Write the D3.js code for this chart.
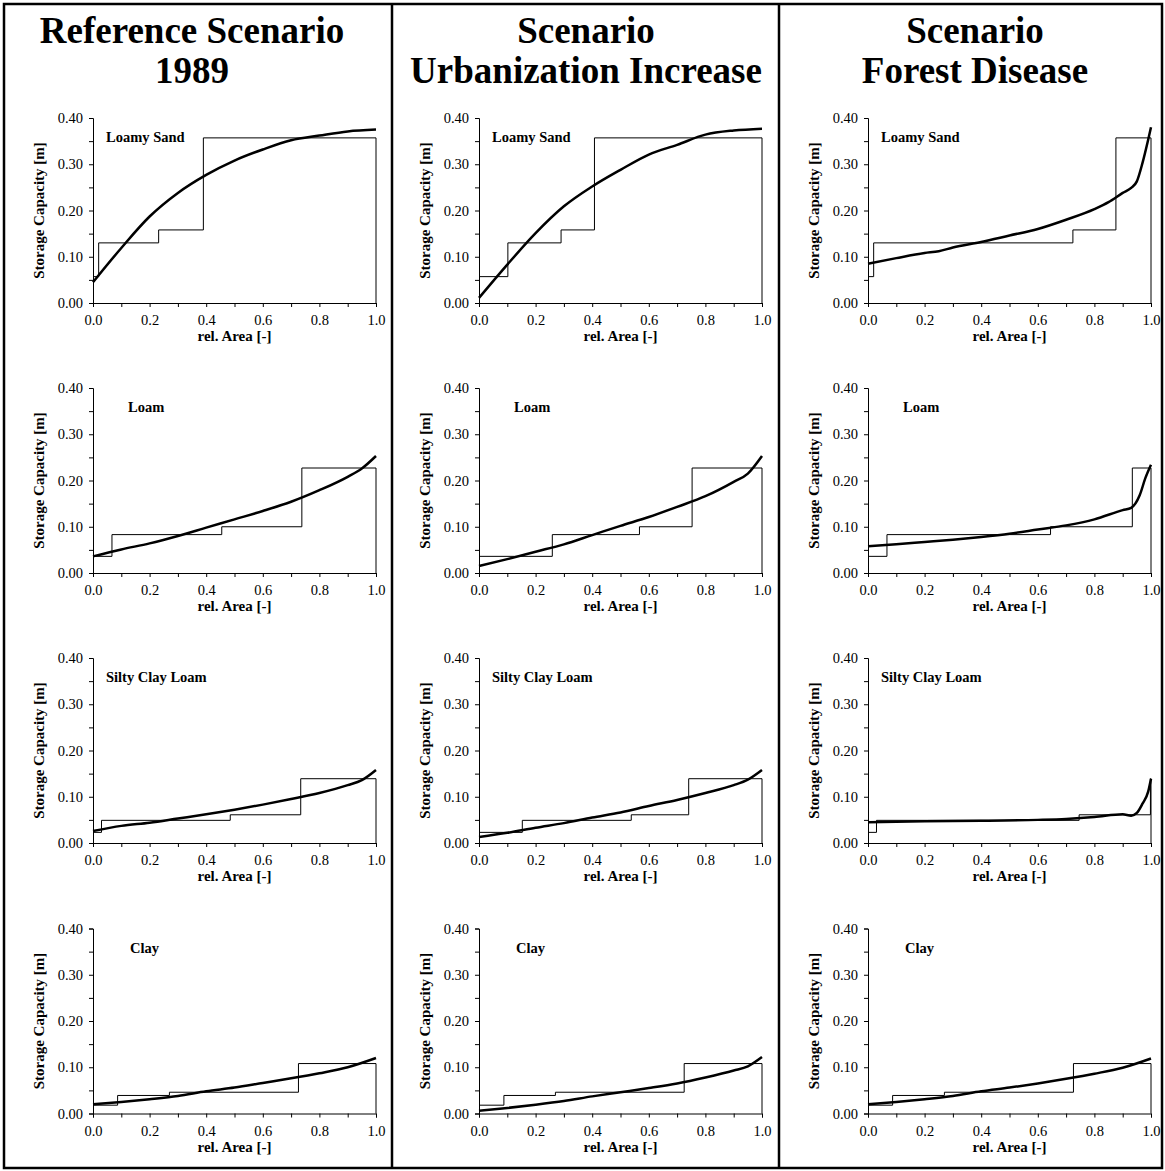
<!DOCTYPE html>
<html>
<head>
<meta charset="utf-8">
<script src="https://cdn.jsdelivr.net/npm/d3@7"></script>
<style>
body { margin: 0; background: #fff; }
text { font-family: "Liberation Serif", "Times New Roman", serif; fill: #000; }
</style>
</head>
<body>
<svg id="chart" width="1165" height="1171"></svg>
<script>
// Storage capacity distributions per scenario (columns) and soil type (rows)

var scenarioTitles = [["Reference Scenario", "1989"], ["Scenario", "Urbanization Increase"], ["Scenario", "Forest Disease"]];
var soilNames = ["Loamy Sand", "Loam", "Silty Clay Loam", "Clay"];
var xTicks = [0, 0.1, 0.2, 0.3, 0.4, 0.5, 0.6, 0.7, 0.8, 0.9, 1.0];
var yTicks = [0, 0.05, 0.10, 0.15, 0.20, 0.25, 0.30, 0.35, 0.40];
var xLabel = "rel. Area [-]";
var yLabel = "Storage Capacity [m]";

// class storage capacity (step heights), one row per soil
var stepLevels = [
    [0.057, 0.130, 0.158, 0.357],
    [0.036, 0.083, 0.100, 0.227],
    [0.023, 0.049, 0.061, 0.139],
    [0.018, 0.039, 0.046, 0.108]
];

// cumulative area where each class ends
var stepBreaksRef = [
    [0.02, 0.232, 0.39, 1],
    [0.067, 0.455, 0.738, 1],
    [0.03, 0.485, 0.734, 1],
    [0.087, 0.27, 0.726, 1]
];
var stepBreaksUrban = [
    [0.102, 0.29, 0.408, 1],
    [0.259, 0.567, 0.753, 1],
    [0.153, 0.538, 0.741, 1],
    [0.088, 0.27, 0.725, 1]
];
var stepBreaksForest = [
    [0.02, 0.724, 0.876, 1],
    [0.067, 0.645, 0.934, 1],
    [0.03, 0.746, 0.998, 1],
    [0.087, 0.27, 0.726, 1]
];

// continuous distribution curves [rel. area, storage capacity]
var curveRef = [
    [[0,0.045],[0.1,0.119],[0.2,0.187],[0.3,0.238],[0.4,0.277],[0.5,0.308],[0.6,0.332],[0.7,0.352],[0.8,0.362],[0.9,0.371],[1,0.375]],
    [[0,0.036],[0.1,0.051],[0.2,0.064],[0.3,0.080],[0.4,0.098],[0.5,0.116],[0.6,0.134],[0.7,0.154],[0.8,0.179],[0.9,0.208],[0.95,0.226],[1,0.253]],
    [[0,0.026],[0.1,0.037],[0.2,0.044],[0.3,0.053],[0.4,0.062],[0.5,0.072],[0.6,0.083],[0.7,0.095],[0.8,0.108],[0.9,0.125],[0.95,0.136],[1,0.158]],
    [[0,0.020],[0.1,0.025],[0.2,0.031],[0.3,0.038],[0.4,0.048],[0.5,0.056],[0.6,0.066],[0.7,0.076],[0.8,0.087],[0.9,0.100],[1,0.120]]
];
var curveUrban = [
    [[0,0.011],[0.1,0.083],[0.2,0.151],[0.3,0.209],[0.4,0.252],[0.5,0.288],[0.6,0.321],[0.7,0.342],[0.8,0.364],[0.9,0.373],[1,0.377]],
    [[0,0.015],[0.1,0.030],[0.2,0.046],[0.3,0.062],[0.4,0.082],[0.5,0.102],[0.6,0.121],[0.7,0.143],[0.8,0.166],[0.9,0.197],[0.95,0.215],[1,0.253]],
    [[0,0.013],[0.1,0.022],[0.2,0.033],[0.3,0.043],[0.4,0.055],[0.5,0.066],[0.6,0.080],[0.7,0.093],[0.8,0.108],[0.9,0.125],[0.95,0.137],[1,0.158]],
    [[0,0.006],[0.1,0.012],[0.2,0.019],[0.3,0.027],[0.4,0.037],[0.5,0.046],[0.6,0.055],[0.7,0.065],[0.8,0.078],[0.9,0.093],[0.95,0.102],[1,0.122]]
];
var curveForest = [
    [[0,0.085],[0.1,0.097],[0.2,0.108],[0.25,0.112],[0.3,0.120],[0.4,0.132],[0.5,0.146],[0.6,0.160],[0.7,0.180],[0.8,0.203],[0.85,0.218],[0.9,0.238],[0.93,0.249],[0.95,0.263],[0.97,0.303],[0.99,0.353],[1,0.380]],
    [[0,0.058],[0.1,0.062],[0.2,0.067],[0.3,0.072],[0.4,0.078],[0.5,0.085],[0.6,0.094],[0.7,0.103],[0.8,0.116],[0.9,0.136],[0.93,0.141],[0.96,0.168],[0.98,0.205],[1,0.234]],
    [[0,0.045],[0.2,0.047],[0.4,0.048],[0.6,0.050],[0.7,0.052],[0.8,0.056],[0.9,0.062],[0.93,0.059],[0.95,0.065],[0.97,0.085],[0.99,0.111],[1,0.139]],
    [[0,0.020],[0.1,0.025],[0.2,0.031],[0.3,0.038],[0.4,0.048],[0.5,0.056],[0.6,0.065],[0.7,0.075],[0.8,0.086],[0.9,0.099],[1,0.119]]
];

var stepBreaks = [stepBreaksRef, stepBreaksUrban, stepBreaksForest];
var curves = [curveRef, curveUrban, curveForest];

// layout
var colLeft = [93, 479, 868];
var titleCenter = [192, 586, 975];
var rowTop = [118, 388, 658, 928.5];
var labelOffset = [13, 35, 13, 37];
var plotW = 283, plotH = 185;

var svg = d3.select("#chart");

// frame
svg.append("rect")
    .attr("x", 4).attr("y", 4)
    .attr("width", 1158).attr("height", 1164)
    .attr("fill", "none").attr("stroke", "#000").attr("stroke-width", 2.5);
[392, 779].forEach(function(x) {
    svg.append("line")
        .attr("x1", x).attr("x2", x).attr("y1", 4).attr("y2", 1168)
        .attr("stroke", "#000").attr("stroke-width", 2.5);
});

// column titles
scenarioTitles.forEach(function(lines, c) {
    var t = svg.append("text")
        .attr("text-anchor", "middle")
        .attr("font-size", "37px")
        .attr("font-weight", "bold");
    lines.forEach(function(l, i) {
        t.append("tspan").attr("x", titleCenter[c]).attr("y", 43 + i * 40).text(l);
    });
});

var fmtY = d3.format(".2f"), fmtX = d3.format(".1f");

scenarioTitles.forEach(function(s, c) {
    soilNames.forEach(function(soil, r) {
        var g = svg.append("g").attr("transform", "translate(" + colLeft[c] + "," + rowTop[r] + ")");
        var x = d3.scaleLinear().domain([0, 1]).range([0, plotW]);
        var y = d3.scaleLinear().domain([0, 0.4]).range([plotH, 0]);

        var xAxis = d3.axisBottom(x).tickValues(xTicks).tickSize(4)
            .tickFormat(function(d, i) { return i % 2 == 0 ? fmtX(d) : ""; });
        var yAxis = d3.axisLeft(y).tickValues(yTicks).tickSize(4)
            .tickFormat(function(d, i) { return i % 2 == 0 ? fmtY(d) : ""; });

        var gx = g.append("g").attr("transform", "translate(0," + plotH + ")").call(xAxis);
        var gy = g.append("g").call(yAxis);
        [gx, gy].forEach(function(a) {
            a.attr("font-family", null);
            a.select(".domain").attr("stroke", "#000");
            a.selectAll(".tick line").attr("stroke", "#000");
            a.selectAll(".tick text")
                .attr("font-family", "'Liberation Serif','Times New Roman',serif")
                .attr("font-size", "14.5px").attr("fill", "#000");
        });
        gx.selectAll(".tick text").attr("dy", null).attr("y", 22);
        gy.selectAll(".tick text").attr("x", -10);

        // axis titles
        g.append("text")
            .attr("x", plotW / 2).attr("y", plotH + 38)
            .attr("text-anchor", "middle")
            .attr("font-size", "15px").attr("font-weight", "bold")
            .text(xLabel);
        g.append("text")
            .attr("transform", "translate(-49," + (plotH / 2) + ") rotate(-90)")
            .attr("text-anchor", "middle")
            .attr("font-size", "15px").attr("font-weight", "bold")
            .text(yLabel);

        // soil label
        g.append("text")
            .attr("x", labelOffset[r]).attr("y", 24)
            .attr("font-size", "14.5px").attr("font-weight", "bold")
            .text(soil);

        // class steps
        var lv = stepLevels[r], br = stepBreaks[c][r];
        var pts = [[0, lv[0]]];
        for (var i = 0; i < lv.length; i++) {
            pts.push([br[i], lv[i]]);
            pts.push([br[i], i + 1 < lv.length ? lv[i + 1] : 0]);
        }
        var line = d3.line().x(function(d) { return x(d[0]); }).y(function(d) { return y(d[1]); });
        g.append("path").datum(pts)
            .attr("d", line)
            .attr("fill", "none").attr("stroke", "#000").attr("stroke-width", 1);

        // distribution curve
        g.append("path").datum(curves[c][r])
            .attr("d", line.curve(d3.curveMonotoneX))
            .attr("fill", "none").attr("stroke", "#000").attr("stroke-width", 2.5)
            .attr("stroke-linejoin", "round");
    });
});
</script>
</body>
</html>
